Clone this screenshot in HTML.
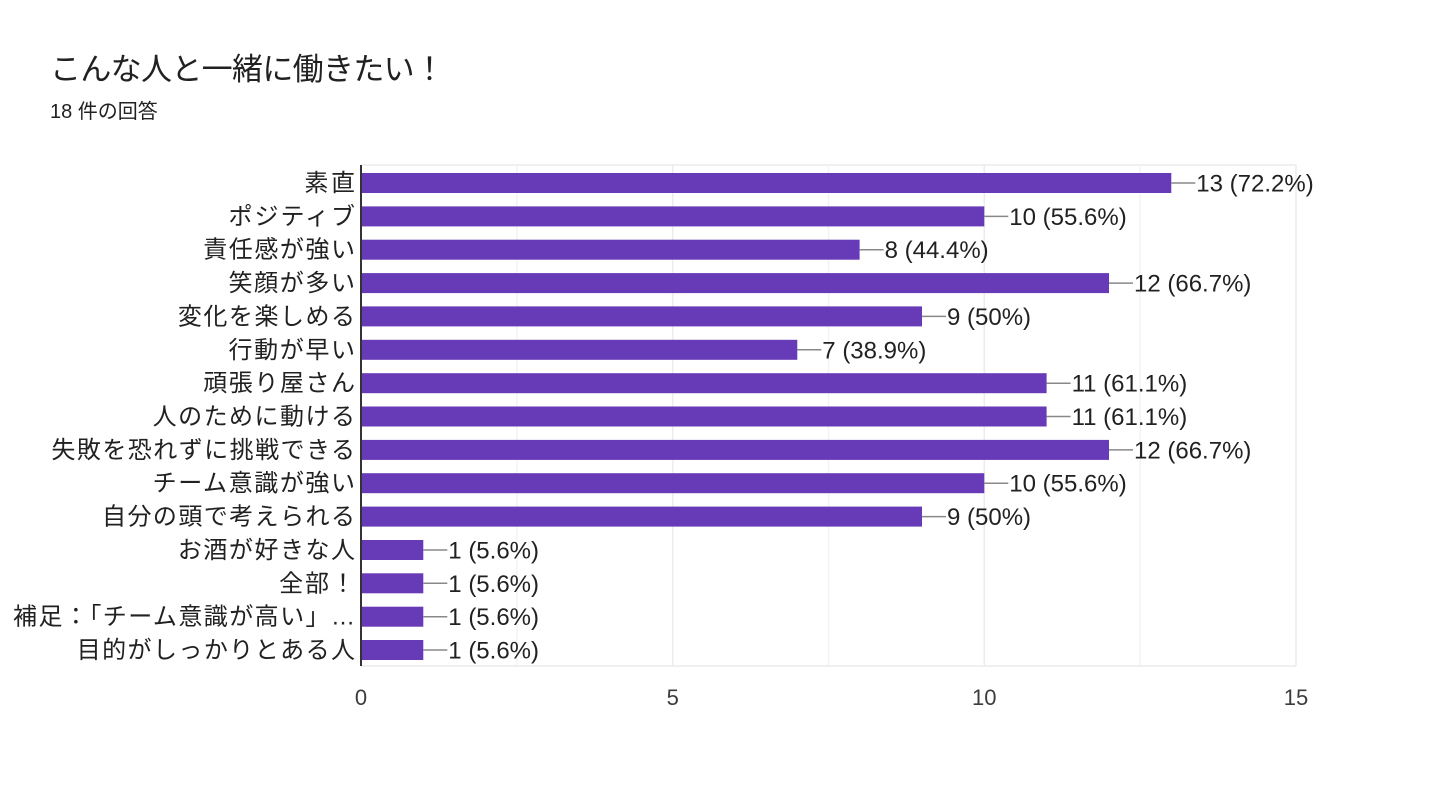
<!DOCTYPE html>
<html><head><meta charset="utf-8"><style>
body{margin:0;background:#fff;}
svg text{font-family:"Liberation Sans","Noto Sans CJK JP",sans-serif;}
</style></head><body>
<svg width="1440" height="803" xmlns="http://www.w3.org/2000/svg">
<rect width="1440" height="803" fill="#fff"/>
<text x="50" y="80" font-size="31" fill="#212121" textLength="395" lengthAdjust="spacing">こんな人と一緒に働きたい！</text>
<text x="50" y="118" font-size="20" fill="#212121">18 件の回答</text>
<g stroke="#ececec" stroke-width="1.5">
<line x1="361" y1="165" x2="1296" y2="165"/>
<line x1="516.8" y1="165" x2="516.8" y2="666" stroke="#f3f3f3"/>
<line x1="672.7" y1="165" x2="672.7" y2="666"/>
<line x1="828.5" y1="165" x2="828.5" y2="666" stroke="#f3f3f3"/>
<line x1="984.3" y1="165" x2="984.3" y2="666"/>
<line x1="1140.2" y1="165" x2="1140.2" y2="666" stroke="#f3f3f3"/>
<line x1="1296" y1="165" x2="1296" y2="666"/>
<line x1="361" y1="666" x2="1296" y2="666"/>
</g>
<g fill="#673ab7">
<rect x="361" y="173" width="810.3" height="20"/>
<rect x="361" y="206.4" width="623.3" height="20"/>
<rect x="361" y="239.7" width="498.6" height="20"/>
<rect x="361" y="273.1" width="748" height="20"/>
<rect x="361" y="306.4" width="561" height="20"/>
<rect x="361" y="339.8" width="436.3" height="20"/>
<rect x="361" y="373.2" width="685.6" height="20"/>
<rect x="361" y="406.5" width="685.6" height="20"/>
<rect x="361" y="439.9" width="748" height="20"/>
<rect x="361" y="473.2" width="623.3" height="20"/>
<rect x="361" y="506.6" width="561" height="20"/>
<rect x="361" y="540" width="62.3" height="20"/>
<rect x="361" y="573.3" width="62.3" height="20"/>
<rect x="361" y="606.7" width="62.3" height="20"/>
<rect x="361" y="640" width="62.3" height="20"/>
</g>
<g stroke="#888" stroke-width="1.5">
<line x1="1171.3" y1="183" x2="1195.3" y2="183"/>
<line x1="984.3" y1="216.4" x2="1008.3" y2="216.4"/>
<line x1="859.6" y1="249.7" x2="883.6" y2="249.7"/>
<line x1="1109" y1="283.1" x2="1133" y2="283.1"/>
<line x1="922" y1="316.4" x2="946" y2="316.4"/>
<line x1="797.3" y1="349.8" x2="821.3" y2="349.8"/>
<line x1="1046.6" y1="383.2" x2="1070.6" y2="383.2"/>
<line x1="1046.6" y1="416.5" x2="1070.6" y2="416.5"/>
<line x1="1109" y1="449.9" x2="1133" y2="449.9"/>
<line x1="984.3" y1="483.2" x2="1008.3" y2="483.2"/>
<line x1="922" y1="516.6" x2="946" y2="516.6"/>
<line x1="423.3" y1="550" x2="447.3" y2="550"/>
<line x1="423.3" y1="583.3" x2="447.3" y2="583.3"/>
<line x1="423.3" y1="616.7" x2="447.3" y2="616.7"/>
<line x1="423.3" y1="650" x2="447.3" y2="650"/>
</g>
<g font-size="24" fill="#212121">
<text x="1196.3" y="191.5">13 (72.2%)</text>
<text x="1009.3" y="224.9">10 (55.6%)</text>
<text x="884.6" y="258.2">8 (44.4%)</text>
<text x="1134" y="291.6">12 (66.7%)</text>
<text x="947" y="324.9">9 (50%)</text>
<text x="822.3" y="358.3">7 (38.9%)</text>
<text x="1071.6" y="391.7">11 (61.1%)</text>
<text x="1071.6" y="425">11 (61.1%)</text>
<text x="1134" y="458.4">12 (66.7%)</text>
<text x="1009.3" y="491.7">10 (55.6%)</text>
<text x="947" y="525.1">9 (50%)</text>
<text x="448.3" y="558.5">1 (5.6%)</text>
<text x="448.3" y="591.8">1 (5.6%)</text>
<text x="448.3" y="625.2">1 (5.6%)</text>
<text x="448.3" y="658.5">1 (5.6%)</text>
</g>
<g font-size="24" fill="#212121" text-anchor="end">
<text x="355" y="191" textLength="50.6" lengthAdjust="spacing">素直</text>
<text x="355" y="224.4" textLength="126.5" lengthAdjust="spacing">ポジティブ</text>
<text x="355" y="257.7" textLength="151.8" lengthAdjust="spacing">責任感が強い</text>
<text x="355" y="291.1" textLength="126.5" lengthAdjust="spacing">笑顔が多い</text>
<text x="355" y="324.4" textLength="177.1" lengthAdjust="spacing">変化を楽しめる</text>
<text x="355" y="357.8" textLength="126.5" lengthAdjust="spacing">行動が早い</text>
<text x="355" y="391.2" textLength="151.8" lengthAdjust="spacing">頑張り屋さん</text>
<text x="355" y="424.5" textLength="202.4" lengthAdjust="spacing">人のために動ける</text>
<text x="355" y="457.9" textLength="303.6" lengthAdjust="spacing">失敗を恐れずに挑戦できる</text>
<text x="355" y="491.2" textLength="202.4" lengthAdjust="spacing">チーム意識が強い</text>
<text x="355" y="524.6" textLength="253" lengthAdjust="spacing">自分の頭で考えられる</text>
<text x="355" y="558" textLength="177.1" lengthAdjust="spacing">お酒が好きな人</text>
<text x="355" y="591.3" textLength="75.9" lengthAdjust="spacing">全部！</text>
<text x="355" y="624.7" textLength="342" lengthAdjust="spacing">補足：「チーム意識が高い」…</text>
<text x="355" y="658" textLength="278.3" lengthAdjust="spacing">目的がしっかりとある人</text>
</g>
<line x1="361" y1="165" x2="361" y2="666" stroke="#333" stroke-width="2"/>
<g font-size="22" fill="#3c3c3c" text-anchor="middle">
<text x="361" y="705">0</text><text x="672.7" y="705">5</text><text x="984.3" y="705">10</text><text x="1296" y="705">15</text>
</g>
</svg>
</body></html>
